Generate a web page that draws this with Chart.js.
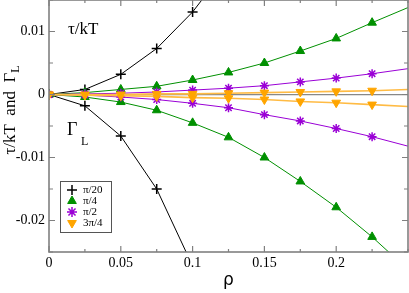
<!DOCTYPE html>
<html>
<head>
<meta charset="utf-8">
<script src="https://cdn.jsdelivr.net/npm/chart.js"></script>
<style>
  body { margin: 0; background: #fff; }
</style>
</head>
<body>
<canvas id="myChart" width="409" height="293"></canvas>
<script>
// x values (rho)
var rho = [0, 0.025, 0.05, 0.075, 0.1, 0.125, 0.15, 0.175, 0.2, 0.225, 0.25];

// tau/kT (upper branch) and Gamma_L (lower branch) for each angle
var tauPi20 = [0, 0.0008, 0.0032, 0.0073, 0.0131, 0.0205];
var gamPi20 = [0, -0.0018, -0.0066, -0.0150, -0.0272];
var tauPi4 = [0, 0.0003, 0.0008, 0.0013, 0.0023, 0.0035, 0.0050, 0.0069, 0.0089, 0.0114, 0.0138];
var gamPi4 = [0, -0.0004, -0.0012, -0.0025, -0.0045, -0.0068, -0.0100, -0.0138, -0.0179, -0.0226, -0.0278];
var tauPi2 = [0, 0.0001, 0.0002, 0.0004, 0.0007, 0.0010, 0.0014, 0.0020, 0.0026, 0.0033, 0.0041];
var gamPi2 = [0, -0.0001, -0.0004, -0.0008, -0.0014, -0.0021, -0.0032, -0.0042, -0.0054, -0.0067, -0.0082];
var tau3Pi4 = [0, 0.0000, 0.0000, 0.0001, 0.0001, 0.0002, 0.0003, 0.0004, 0.0005, 0.0006, 0.0008];
var gam3Pi4 = [0, -0.0001, -0.0002, -0.0003, -0.0005, -0.0006, -0.0008, -0.0011, -0.0013, -0.0016, -0.0019];

var seriesNames = ["π/20", "π/4", "π/2", "3π/4"];
var xTickLabels = ["0", "0.05", "0.1", "0.15", "0.2"];
var yTickLabels = ["-0.02", "-0.01", "0", "0.01"];

var colors = ["#000000", "#009000", "#9a00d6", "#ffa500"];
var styles = ["cross", "triangle", "star", "triangle"];
var rotations = [0, 0, 0, 180];
var lineColors = ["#000000", "#009000", "#9a00d6", "#ffbb44"];
var drawOrder = [3, 2, 1, 0];

function pts(ys) {
  return ys.map(function (y, i) { return { x: rho[i], y: y }; });
}

function makeSet(k, ys) {
  return {
    label: seriesNames[k],
    data: pts(ys),
    showLine: true,
    borderColor: lineColors[k],
    borderWidth: k == 3 ? 1.6 : 1,
    pointStyle: styles[k],
    pointRotation: rotations[k],
    pointRadius: function (c) { return c.raw && c.raw.x >= 0.25 ? 0 : (k == 2 ? 4.5 : 5); },
    pointBackgroundColor: colors[k],
    pointBorderColor: colors[k],
    pointBorderWidth: (k == 0 || k == 2) ? 1.5 : 1,
    order: drawOrder[k],
    tension: 0
  };
}

var datasets = [
  makeSet(0, tauPi20), makeSet(0, gamPi20),
  makeSet(1, tauPi4), makeSet(1, gamPi4),
  makeSet(2, tauPi2), makeSet(2, gamPi2),
  makeSet(3, tau3Pi4), makeSet(3, gam3Pi4)
];

function fmt(v, d) { var s = String(+v.toFixed(d)); return s == "-0" ? "0" : s; }

// frame with inward ticks, legend and text labels
var extras = {
  id: 'extras',
  afterDatasetsDraw: function (chart) {
    var ctx = chart.ctx, a = chart.chartArea;
    var xs = chart.scales.x, ys = chart.scales.y;
    ctx.save();
    ctx.strokeStyle = '#808080';
    ctx.lineWidth = 1.2;
    xs.ticks.forEach(function (t) {
      var px = xs.getPixelForValue(t.value);
      var len = xTickLabels.indexOf(fmt(t.value, 3)) >= 0 ? 6 : 3;
      ctx.beginPath();
      ctx.moveTo(px, a.bottom); ctx.lineTo(px, a.bottom - len);
      ctx.moveTo(px, a.top); ctx.lineTo(px, a.top + len);
      ctx.stroke();
    });
    ys.ticks.forEach(function (t) {
      var py = ys.getPixelForValue(t.value);
      var len = yTickLabels.indexOf(fmt(t.value, 4)) >= 0 ? 6 : 4;
      ctx.beginPath();
      ctx.moveTo(a.left, py); ctx.lineTo(a.left + len, py);
      ctx.moveTo(a.right, py); ctx.lineTo(a.right - len, py);
      ctx.stroke();
    });
    ctx.lineWidth = 1.6;
    ctx.strokeRect(a.left, a.top, a.right - a.left, a.bottom - a.top);

    // legend box
    var bx = 60, by = 181, bw = 51, bh = 51;
    ctx.fillStyle = '#fff';
    ctx.fillRect(bx, by, bw, bh);
    ctx.strokeStyle = '#555';
    ctx.lineWidth = 1;
    ctx.strokeRect(bx + 0.5, by + 0.5, bw, bh);
    ctx.font = '11px "Liberation Serif"';
    ctx.textBaseline = 'middle';
    ctx.textAlign = 'left';
    for (var k = 0; k < seriesNames.length; k++) {
      var yy = by + 9 + k * 11;
      ctx.fillStyle = colors[k];
      ctx.strokeStyle = colors[k];
      ctx.lineWidth = (k == 0 || k == 2) ? 1.5 : 1;
      Chart.helpers.drawPoint(ctx, { pointStyle: styles[k], rotation: rotations[k], radius: 5, borderWidth: ctx.lineWidth }, bx + 12, yy);
      ctx.fillStyle = '#000';
      ctx.fillText(seriesNames[k], bx + 23, yy);
    }

    // annotations inside the plot
    ctx.fillStyle = '#000';
    ctx.font = '17px "Liberation Serif"';
    ctx.fillText('τ/kT', 68, 30);
    ctx.font = '18px "Liberation Serif"';
    ctx.fillText('Γ', 67, 130);
    ctx.font = '12px "Liberation Serif"';
    ctx.fillText('L', 81, 142);

    // y axis title with subscript
    var main = 'τ/kT  and  Γ';
    ctx.font = '17px "Liberation Serif"';
    var w1 = ctx.measureText(main).width;
    ctx.font = '12px "Liberation Serif"';
    var w2 = ctx.measureText('L').width;
    ctx.translate(11, 110);
    ctx.rotate(-Math.PI / 2);
    ctx.font = '17px "Liberation Serif"';
    ctx.fillText(main, -(w1 + w2) / 2, 0);
    ctx.font = '12px "Liberation Serif"';
    ctx.fillText('L', -(w1 + w2) / 2 + w1, 5);
    ctx.restore();
  }
};

new Chart("myChart", {
  type: "scatter",
  data: { datasets: datasets },
  options: {
    responsive: false,
    animation: false,
    layout: { autoPadding: false, padding: { top: 0, right: 1, left: 0, bottom: 0 } },
    plugins: { legend: { display: false }, tooltip: { enabled: false } },
    scales: {
      x: {
        type: 'linear',
        min: 0, max: 0.25,
        border: { display: false },
        grid: { display: true, drawOnChartArea: false, drawTicks: false, color: 'transparent' },
        ticks: {
          stepSize: 0.025, autoSkip: false, maxRotation: 0, padding: 3,
          color: '#000', font: { family: 'Liberation Serif', size: 14 },
          callback: function (v) { var s = fmt(v, 3); return xTickLabels.indexOf(s) >= 0 ? s : ''; }
        },
        title: { display: true, text: 'ρ', color: '#000', font: { family: 'DejaVu Sans', size: 17 }, padding: { top: 0, bottom: 2 } },
        afterFit: function (s) { s.height = 41; s.paddingLeft = 0; s.paddingRight = 0; }
      },
      y: {
        min: -0.025, max: 0.015,
        border: { display: false },
        grid: {
          drawTicks: false,
          color: function (c) { return c.tick && Math.abs(c.tick.value) < 1e-9 ? '#888' : 'transparent'; },
          lineWidth: 1.2
        },
        ticks: {
          stepSize: 0.005, autoSkip: false, padding: 4,
          color: '#000', font: { family: 'Liberation Serif', size: 14 },
          callback: function (v) { var s = fmt(v, 4); return yTickLabels.indexOf(s) >= 0 ? s : ''; }
        },
        afterFit: function (s) { s.width = 49; s.paddingTop = 0; s.paddingBottom = 0; }
      }
    }
  },
  plugins: [extras]
});
</script>
</body>
</html>
